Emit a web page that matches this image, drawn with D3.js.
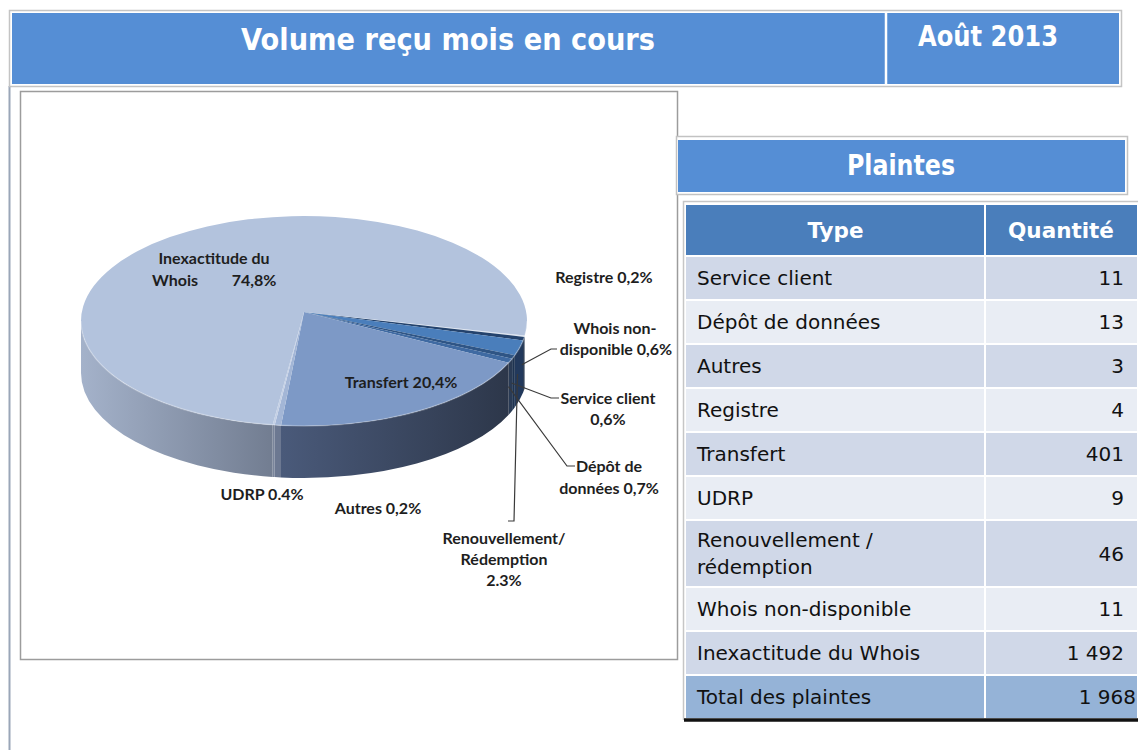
<!DOCTYPE html>
<html>
<head>
<meta charset="utf-8">
<script src="https://cdn.jsdelivr.net/npm/d3@7"></script>
<style>
  body { margin: 0; background: #fff; }
  svg { display: block; }
</style>
</head>
<body>
<script>
// tableau "Plaintes"
var categories = ["Service client", "Dépôt de données", "Autres", "Registre", "Transfert", "UDRP",
  "Renouvellement / rédemption", "Whois non-disponible", "Inexactitude du Whois"];
var quantities = [11, 13, 3, 4, 401, 9, 46, 11, 1492];
var totalLabel = "Total des plaintes";
var totalValue = 1968;
var columns = ["Type", "Quantité"];

// ordre des tranches du camembert (sens horaire)
var pieOrder = ["Registre", "Whois non-disponible", "Renouvellement / rédemption", "Service client",
  "Dépôt de données", "Transfert", "UDRP", "Autres", "Inexactitude du Whois"];

// textes des étiquettes du camembert
var pieLabels = {
  "Inexactitude du Whois": ["Inexactitude du", "Whois", "74,8%"],
  "Registre": ["Registre 0,2%"],
  "Whois non-disponible": ["Whois non-", "disponible 0,6%"],
  "Transfert": ["Transfert 20,4%"],
  "Service client": ["Service client", "0,6%"],
  "Dépôt de données": ["Dépôt de", "données 0,7%"],
  "UDRP": ["UDRP 0.4%"],
  "Autres": ["Autres 0,2%"],
  "Renouvellement / rédemption": ["Renouvellement/", "Rédemption", "2.3%"]
};

var width = 1138;
var height = 750;

// mise en page des étiquettes (x, ligne de base)
var labelPos = {
  "Inexactitude du Whois": [[214, 264], [175, 286], [254, 286]],
  "Registre": [[604, 283]],
  "Whois non-disponible": [[615, 334], [616, 355]],
  "Transfert": [[401, 388]],
  "Service client": [[608, 404], [608, 425]],
  "Dépôt de données": [[609, 472], [609, 494]],
  "UDRP": [[262, 500]],
  "Autres": [[378, 514]],
  "Renouvellement / rédemption": [[504, 544], [504, 565], [504, 586]]
};
// coudes des traits de rappel
var leaderElbows = {
  "Whois non-disponible": [[557, 349], [551, 349]],
  "Service client": [[559, 398], [551, 398]],
  "Dépôt de données": [[575, 466], [567, 466]],
  "Renouvellement / rédemption": [[508, 521], [514, 521]]
};

var topColors = {
  "Registre": "#dfe6f1",
  "Whois non-disponible": "#24436d",
  "Renouvellement / rédemption": "#4a7ebb",
  "Service client": "#2f5585",
  "Dépôt de données": "#3f6aa2",
  "Transfert": "#7d99c6",
  "UDRP": "#a3b6d6",
  "Autres": "#c4d0e5",
  "Inexactitude du Whois": "#b3c3dd"
};
var sideColors = {
  "Registre": ["#8894a8", "#8894a8"],
  "Whois non-disponible": ["#1b2c44", "#1b2c44"],
  "Renouvellement / rédemption": ["#22395c", "#22395c"],
  "Service client": ["#1e3350", "#1e3350"],
  "Dépôt de données": ["#2a3b55", "#2a3b55"],
  "Transfert": ["#4a5a7a", "#2d374a"],
  "UDRP": ["#6c7891", "#6c7891"],
  "Autres": ["#7a859b", "#7a859b"],
  "Inexactitude du Whois": ["#a4b2ca", "#727d91"]
};

var svg = d3.select("body").append("svg")
  .attr("width", width)
  .attr("height", height);
var defs = svg.append("defs");

// ---- bandeau du haut ----
svg.append("line")
  .attr("x1", 9.5).attr("x2", 9.5).attr("y1", 86).attr("y2", height)
  .attr("stroke", "#9aa6b8").attr("stroke-width", 2);
svg.append("rect")
  .attr("x", 9.5).attr("y", 10.5).attr("width", 1112).attr("height", 76)
  .attr("fill", "#fff").attr("stroke", "#c4c4c4").attr("stroke-width", 1.5);
svg.append("rect")
  .attr("x", 12).attr("y", 13).attr("width", 1107).attr("height", 71)
  .attr("fill", "#558ed5");
svg.append("line")
  .attr("x1", 886).attr("x2", 886).attr("y1", 13).attr("y2", 84)
  .attr("stroke", "#fff").attr("stroke-width", 2.5);
svg.append("text")
  .attr("x", 241).attr("y", 50)
  .attr("textLength", 414).attr("lengthAdjust", "spacingAndGlyphs")
  .attr("font-family", "DejaVu Sans").attr("font-weight", "bold").attr("font-size", 30)
  .attr("fill", "#fff")
  .text("Volume reçu mois en cours");
svg.append("text")
  .attr("x", 918).attr("y", 46)
  .attr("textLength", 140).attr("lengthAdjust", "spacingAndGlyphs")
  .attr("font-family", "DejaVu Sans").attr("font-weight", "bold").attr("font-size", 28)
  .attr("fill", "#fff")
  .text("Août 2013");

// ---- cadre du graphique ----
svg.append("rect")
  .attr("x", 20.5).attr("y", 91.5).attr("width", 657).attr("height", 568)
  .attr("fill", "#fff").attr("stroke", "#9c9c9c").attr("stroke-width", 1.5);

// ---- camembert 3D ----
var cx = 304, cy = 321, rx = 223, ry = 105, depth = 52;
var apex = [304, 312];
var startA = 98 * Math.PI / 180;

function pt(a, dy) {
  return [cx + rx * Math.sin(a), cy - ry * Math.cos(a) + (dy || 0)];
}

var pieData = pieOrder.map(function (name) {
  return { name: name, value: quantities[categories.indexOf(name)] };
});
var arcs = d3.pie()
  .sort(null)
  .value(function (d) { return d.value; })
  .startAngle(startA)
  .endAngle(startA + 2 * Math.PI)(pieData);

// partie visible (avant) du flanc
function frontPart(a0, a1) {
  var spans = [[Math.PI / 2, 1.5 * Math.PI], [2.5 * Math.PI, 3.5 * Math.PI]];
  for (var i = 0; i < spans.length; i++) {
    var b0 = Math.max(a0, spans[i][0]), b1 = Math.min(a1, spans[i][1]);
    if (b1 > b0) return [b0, b1];
  }
  return null;
}

var sides = arcs.map(function (d) {
  return { d: d, part: frontPart(d.startAngle, d.endAngle) };
}).filter(function (s) { return s.part; });

sides.forEach(function (s, i) {
  var p0 = pt(s.part[0]), p1 = pt(s.part[1]);
  var c = sideColors[s.d.data.name];
  var g = defs.append("linearGradient")
    .attr("id", "side" + i)
    .attr("gradientUnits", "userSpaceOnUse")
    .attr("x1", p1[0]).attr("x2", p0[0])
    .attr("y1", 0).attr("y2", 0);
  g.append("stop").attr("offset", 0).attr("stop-color", c[0]);
  g.append("stop").attr("offset", 1).attr("stop-color", c[1]);
});

svg.append("g").attr("class", "sides")
  .selectAll("path")
  .data(sides)
  .enter().append("path")
  .attr("d", function (s) {
    var b0 = s.part[0], b1 = s.part[1];
    var p0 = pt(b0), p1 = pt(b1), q1 = pt(b1, depth), q0 = pt(b0, depth);
    return "M" + p0 + "A" + rx + "," + ry + " 0 0 1 " + p1 +
      "L" + q1 + "A" + rx + "," + ry + " 0 0 0 " + q0 + "Z";
  })
  .attr("fill", function (s, i) { return "url(#side" + i + ")"; });

svg.append("g").attr("class", "tops")
  .selectAll("path")
  .data(arcs)
  .enter().append("path")
  .attr("d", function (d) {
    var p0 = pt(d.startAngle), p1 = pt(d.endAngle);
    var large = d.endAngle - d.startAngle > Math.PI ? 1 : 0;
    return "M" + apex + "L" + p0 + "A" + rx + "," + ry + " 0 " + large + " 1 " + p1 + "Z";
  })
  .attr("fill", function (d) { return topColors[d.data.name]; });

// léger liseré du bord supérieur
svg.append("path")
  .attr("d", "M" + pt(Math.PI / 2) + "A" + rx + "," + ry + " 0 0 1 " + pt(1.5 * Math.PI))
  .attr("fill", "none").attr("stroke", "#ffffff").attr("stroke-opacity", 0.25).attr("stroke-width", 1.5);

// traits de rappel
var arcByName = {};
arcs.forEach(function (d) { arcByName[d.data.name] = d; });
var leaders = Object.keys(leaderElbows).map(function (name) {
  var d = arcByName[name];
  var mid = (d.startAngle + d.endAngle) / 2;
  var anchor = pt(mid, depth * 0.5);
  anchor[0] -= 2;
  return leaderElbows[name].concat([anchor]);
});
svg.append("g").attr("class", "leaders")
  .selectAll("path")
  .data(leaders)
  .enter().append("path")
  .attr("d", d3.line())
  .attr("fill", "none")
  .attr("stroke", "#3a3a3a")
  .attr("stroke-width", 1.2);

// étiquettes
var labelItems = [];
Object.keys(pieLabels).forEach(function (name) {
  pieLabels[name].forEach(function (line, j) {
    labelItems.push({ text: line, pos: labelPos[name][j] });
  });
});
svg.append("g").attr("class", "pie-labels")
  .selectAll("text")
  .data(labelItems)
  .enter().append("text")
  .attr("x", function (d) { return d.pos[0]; })
  .attr("y", function (d) { return d.pos[1]; })
  .attr("text-anchor", "middle")
  .attr("font-family", "Lato, 'DejaVu Sans', sans-serif")
  .attr("font-weight", "bold")
  .attr("font-size", 16)
  .attr("fill", "#1e1e1e")
  .text(function (d) { return d.text; });

// ---- bandeau "Plaintes" ----
svg.append("rect")
  .attr("x", 676.5).attr("y", 136.5).attr("width", 451).attr("height", 58)
  .attr("fill", "#fff").attr("stroke", "#c2c2c2").attr("stroke-width", 1.5);
svg.append("rect")
  .attr("x", 678).attr("y", 140).attr("width", 447).attr("height", 52)
  .attr("fill", "#558ed5");
svg.append("text")
  .attr("x", 847).attr("y", 175)
  .attr("textLength", 108).attr("lengthAdjust", "spacingAndGlyphs")
  .attr("font-family", "DejaVu Sans").attr("font-weight", "bold").attr("font-size", 28)
  .attr("fill", "#fff")
  .text("Plaintes");

// ---- tableau ----
svg.append("path")
  .attr("d", "M683.5,720V201.5H1138")
  .attr("fill", "none").attr("stroke", "#c6c6c6").attr("stroke-width", 1.5);

var fmt = d3.formatLocale({ decimal: ",", thousands: "\u00a0", grouping: [3], currency: ["", " €"] }).format(",d");

var tx0 = 686, tx1 = 985, tx2 = 1137;
var rows = categories.map(function (c, i) {
  return { type: c, value: fmt(quantities[i]), kind: "body" };
});
rows.push({ type: totalLabel, value: fmt(totalValue), kind: "total" });

var y = 257;
rows.forEach(function (r, i) {
  r.lines = r.type === "Renouvellement / rédemption" ? ["Renouvellement /", "rédemption"] : [r.type];
  r.h = r.lines.length > 1 ? 65 : 42;
  r.y = y;
  r.fill = r.kind === "total" ? "#95b3d7" : (i % 2 === 0 ? "#d0d8e8" : "#e9edf4");
  y += r.h + 2;
});

var head = svg.append("g").attr("class", "table-head");
head.selectAll("rect")
  .data(columns)
  .enter().append("rect")
  .attr("x", function (d, i) { return i === 0 ? tx0 : tx1 + 1; })
  .attr("y", 205)
  .attr("width", function (d, i) { return i === 0 ? tx1 - tx0 - 1 : tx2 - tx1 - 1; })
  .attr("height", 50)
  .attr("fill", "#4a7ebb");
head.selectAll("text")
  .data(columns)
  .enter().append("text")
  .attr("x", function (d, i) { return i === 0 ? (tx0 + tx1) / 2 : (tx1 + tx2) / 2; })
  .attr("y", 238)
  .attr("text-anchor", "middle")
  .attr("font-family", "DejaVu Sans").attr("font-weight", "bold").attr("font-size", 21.5)
  .attr("fill", "#fff")
  .text(function (d) { return d; });

var rowG = svg.append("g").attr("class", "table-body")
  .selectAll("g")
  .data(rows)
  .enter().append("g");
rowG.append("rect")
  .attr("x", tx0).attr("y", function (d) { return d.y; })
  .attr("width", tx1 - tx0 - 1).attr("height", function (d) { return d.h; })
  .attr("fill", function (d) { return d.fill; });
rowG.append("rect")
  .attr("x", tx1 + 1).attr("y", function (d) { return d.y; })
  .attr("width", tx2 - tx1 - 1).attr("height", function (d) { return d.h; })
  .attr("fill", function (d) { return d.fill; });
rowG.each(function (d) {
  var g = d3.select(this);
  var mid = d.y + d.h / 2;
  d.lines.forEach(function (line, j) {
    g.append("text")
      .attr("x", 697)
      .attr("y", mid + 7 + (j - (d.lines.length - 1) / 2) * 27)
      .attr("font-family", "DejaVu Sans").attr("font-size", 20)
      .attr("fill", "#111")
      .text(line);
  });
  g.append("text")
    .attr("x", d.kind === "total" ? 1136 : 1124)
    .attr("y", mid + 7)
    .attr("text-anchor", "end")
    .attr("font-family", "DejaVu Sans").attr("font-size", 20)
    .attr("fill", "#111")
    .text(d.value);
});
svg.append("line")
  .attr("x1", tx0 - 2).attr("x2", tx2 + 1)
  .attr("y1", y).attr("y2", y)
  .attr("stroke", "#111").attr("stroke-width", 3.5);
</script>
</body>
</html>
